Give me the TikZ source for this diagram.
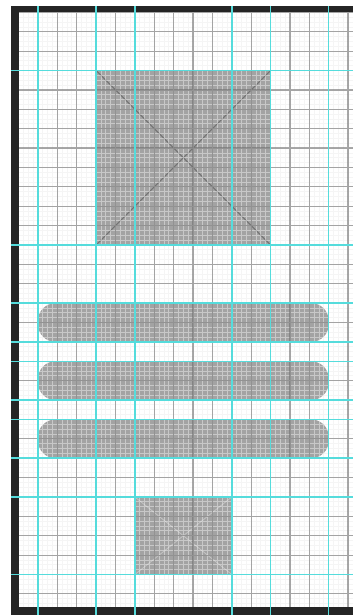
\documentclass[tikz,border=0pt]{standalone}
\usepackage{xcolor}
\usepackage{tikz}
\definecolor{WFFill}{RGB}{163,163,163}
\definecolor{WFCyan}{RGB}{85,220,220}
\definecolor{WFDark}{RGB}{37,37,37}
\definecolor{WFLine}{RGB}{110,110,110}

\begin{document}
\begin{tikzpicture}[x=0.5cm, y=0.5cm,
          ph/.style={fill=WFFill},
          pill/.style={fill=WFFill, rounded corners=0.45cm},
          minor/.style={draw=black!7, line width=0.6pt, opacity=0.5},
          major/.style={draw=WFLine, line width=0.9pt, opacity=0.6},
          guide/.style={draw=WFCyan, line width=1.1pt}
        ]
        \useasboundingbox (-0.96,0.64) rectangle (17.25,-31.09);
        \fill[white] (-0.96,0.64) rectangle (17.25,-31.09);

        % image placeholder, top
        \fill[ph] (4,-3) rectangle (13,-12);
        \draw[black!55, line width=0.7pt] (4,-3) -- (13,-12) (4,-12) -- (13,-3);

        % text bars
        \fill[pill] (1,-15) rectangle (16,-17);
        \fill[pill] (1,-18) rectangle (16,-20);
        \fill[pill] (1,-21) rectangle (16,-23);

        % image placeholder, bottom
        \fill[ph] (6,-25) rectangle (11,-29);
        \draw[white, opacity=0.35, line width=0.6pt] (6,-25) -- (11,-29) (6,-29) -- (11,-25);

        % grid
        \draw[minor, step=0.25] (0,-30.68) grid (17.25,0);
        \draw[major, step=1] (0,-30.68) grid (17.25,0);

        % frame
        \fill[WFDark] (-0.39,0.33) rectangle (0,-31.09);
        \fill[WFDark] (-0.39,0.33) rectangle (17.25,0);
        \fill[WFDark] (-0.39,-30.68) rectangle (17.25,-31.09);

        % layout guides
        \foreach \gx in {1,4,6,11,13,16}
          \draw[guide] (\gx,0.33) -- (\gx,-31.09);
        \foreach \gy in {3,12,15,17,18,20,21,23,25,29}
          \draw[guide] (-0.39,-\gy) -- (17.25,-\gy);
      \end{tikzpicture}
\end{document}
